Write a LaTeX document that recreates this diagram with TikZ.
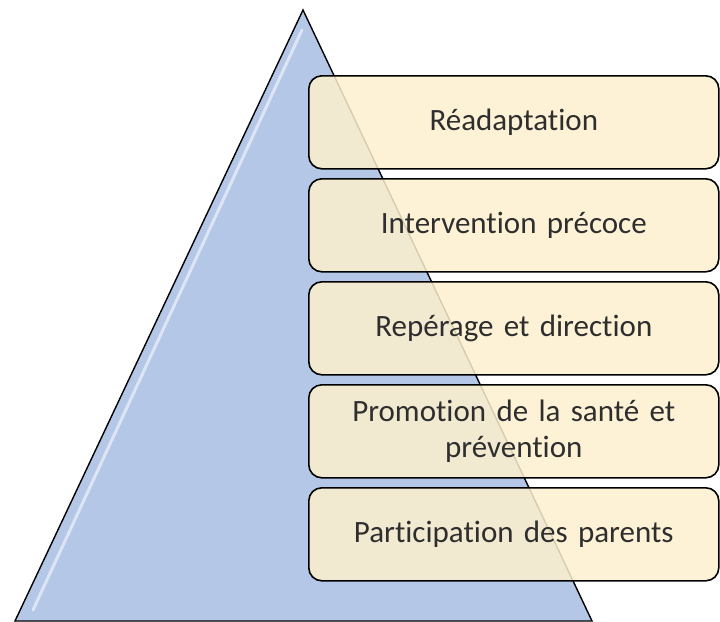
\documentclass[tikz,border=0pt]{standalone}
\usepackage{fontspec}
\setmainfont{Carlito}[Ligatures={NoCommon}, WordSpace=0.8]
\usetikzlibrary{positioning}
\definecolor{pyrblue}{HTML}{B4C7E7}
\definecolor{boxcream}{HTML}{FDF0CE}
\tikzset{level/.style={draw=black, line width=1.6pt, rounded corners=13pt,
    fill=boxcream, fill opacity=0.85, text opacity=1, text=black!82,
    minimum width=410pt, minimum height=93pt, text width=390pt, align=center,
    font=\fontsize{31}{36}\selectfont}}

\begin{document}
\begin{tikzpicture}[x=1pt,y=-1pt]
  \useasboundingbox (0,0) rectangle (720,621);
  % pyramid
  \draw [line width=1.4pt, fill=pyrblue] (303,10) -- (592,621) -- (15,621) -- cycle;
  \draw [white, line width=3pt, opacity=0.55, line cap=round] (302,30) -- (33,610);
  % levels
  \node [level, anchor=north west] (readapt) at (308,75) {Réadaptation};
  \node [level, below=8.4pt of readapt] (interv) {Intervention précoce};
  \node [level, below=8.4pt of interv] (reperage) {Repérage et direction};
  \node [level, below=8.4pt of reperage] (promo) {Promotion de la santé et\\prévention};
  \node [level, below=8.4pt of promo] (parents) {Participation des parents};
\end{tikzpicture}
\end{document}
